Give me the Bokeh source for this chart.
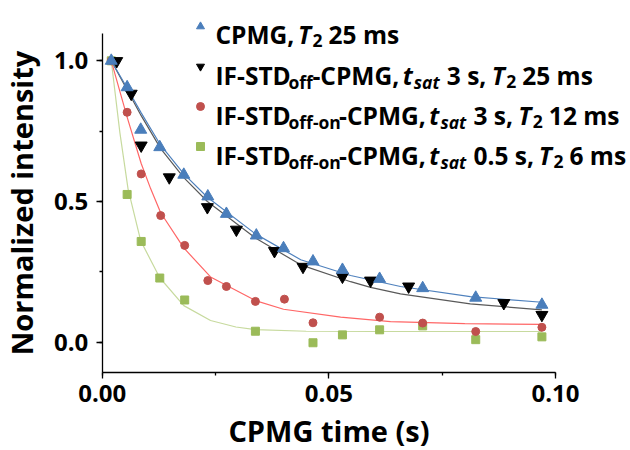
from bokeh.plotting import figure
from bokeh.models import (Range1d, SingleIntervalTicker, NumeralTickFormatter, Label,
                          Legend, LegendItem)
from bokeh.embed import file_html
from bokeh.resources import INLINE

# ---------------- data ----------------
cpmg_t = [0.002, 0.0055, 0.0085, 0.0127, 0.018, 0.0233, 0.0274, 0.034, 0.040, 0.0465,
          0.053, 0.0612, 0.0707, 0.0824, 0.097]
cpmg_v = [1.0, 0.906, 0.755, 0.693, 0.595, 0.518, 0.456, 0.379, 0.334, 0.287,
          0.257, 0.225, 0.192, 0.158, 0.133]

off_t = [0.0032, 0.0064, 0.0086, 0.0148, 0.0232, 0.0296, 0.038, 0.0443, 0.053, 0.0592,
         0.0676, 0.0886, 0.097]
off_v = [0.999, 0.883, 0.699, 0.586, 0.48, 0.40, 0.324, 0.268, 0.233, 0.219,
         0.198, 0.139, 0.097]

on3_t = [0.002, 0.0055, 0.0086, 0.0129, 0.0182, 0.0233, 0.0274, 0.0338, 0.0402, 0.0465,
         0.0612, 0.0707, 0.0824, 0.097]
on3_v = [1.0, 0.817, 0.598, 0.45, 0.344, 0.219, 0.198, 0.145, 0.153, 0.069,
         0.089, 0.068, 0.038, 0.053]

on05_t = [0.002, 0.0055, 0.0086, 0.0127, 0.0182, 0.0338, 0.0465, 0.053, 0.0612, 0.0707,
          0.0824, 0.097]
on05_v = [1.0, 0.525, 0.358, 0.228, 0.150, 0.039, -0.002, 0.026, 0.044, 0.058,
          0.009, 0.019]

# fitted curves
fit_cpmg_t = [0.002, 0.0054, 0.0086, 0.0129, 0.018, 0.0232, 0.0338, 0.0438, 0.0548,
              0.0658, 0.0812, 0.097]
fit_cpmg_v = [1.0, 0.906, 0.815, 0.70, 0.598, 0.515, 0.385, 0.293, 0.237,
              0.198, 0.162, 0.142]

fit_off_t = [0.002, 0.0054, 0.0086, 0.0129, 0.018, 0.0232, 0.0338, 0.0438, 0.0548,
             0.0592, 0.0658, 0.0812, 0.097]
fit_off_v = [1.0, 0.90, 0.805, 0.688, 0.585, 0.50, 0.37, 0.275, 0.215,
             0.195, 0.172, 0.136, 0.115]

fit_on3_t = [0.002, 0.0055, 0.0086, 0.0107, 0.0129, 0.018, 0.0239, 0.0338, 0.040,
             0.0526, 0.0636, 0.080, 0.097]
fit_on3_v = [1.0, 0.80, 0.635, 0.545, 0.46, 0.335, 0.232, 0.148, 0.117,
             0.089, 0.073, 0.066, 0.063]

fit_on05_t = [0.002, 0.0039, 0.0057, 0.0085, 0.0127, 0.018, 0.0239, 0.0295, 0.0338,
              0.045, 0.060, 0.097]
fit_on05_v = [1.0, 0.745, 0.545, 0.36, 0.229, 0.13, 0.077, 0.054, 0.045,
              0.039, 0.038, 0.038]

x_axis_bounds = (0.0, 0.1)
y_axis_bounds = (-0.108, 1.097)
x_tick_interval = 0.05
y_tick_interval = 0.5

# ---------------- layout / styling ----------------
FONT = "Open Sans"
BLUE_PT, BLUE_LN = "#4A7EBB", "#4F81BD"
BLACK_PT, BLACK_LN = "#000000", "#595959"
RED_PT, RED_LN = "#C0504D", "#FF6666"
GREEN_PT, GREEN_LN = "#9BBB59", "#C7DA9E"

W, H = 630, 450
PX_X = 4533.0      # canvas px per x unit
PX_Y = 281.4       # canvas px per y unit
ORG_X = 101.7      # canvas x of x = 0
ORG_Y = 341.7      # canvas y of y = 0

p = figure(width=W, height=H, output_backend="svg", toolbar_location=None,
           x_range=Range1d(-ORG_X / PX_X, (W - ORG_X) / PX_X),
           y_range=Range1d(-(H - ORG_Y) / PX_Y, ORG_Y / PX_Y),
           min_border=0)
p.xgrid.visible = False
p.ygrid.visible = False
p.outline_line_color = None
p.background_fill_color = "white"
p.border_fill_color = "white"

for ax in (p.xaxis[0], p.yaxis[0]):
    ax.axis_line_color = "black"
    ax.axis_line_width = 1.3
    ax.major_tick_line_color = "black"
    ax.minor_tick_line_color = "black"
    ax.major_tick_line_width = 1.3
    ax.minor_tick_line_width = 1.3
    ax.major_tick_out = 6
    ax.major_tick_in = 0
    ax.minor_tick_out = 3
    ax.minor_tick_in = 0
    ax.major_label_text_font = FONT
    ax.major_label_text_font_style = "bold"
    ax.major_label_text_font_size = "24px"
    ax.major_label_text_color = "black"
    ax.axis_label_text_font = FONT
    ax.axis_label_text_font_style = "bold"
    ax.axis_label_text_font_size = "29px"
    ax.axis_label_text_color = "black"

p.xaxis.fixed_location = y_axis_bounds[0]
p.yaxis.fixed_location = x_axis_bounds[0]
p.xaxis.bounds = x_axis_bounds
p.yaxis.bounds = y_axis_bounds
p.xaxis.ticker = SingleIntervalTicker(interval=x_tick_interval, num_minor_ticks=2)
p.yaxis.ticker = SingleIntervalTicker(interval=y_tick_interval, num_minor_ticks=2)
p.xaxis.formatter = NumeralTickFormatter(format="0.00")
p.yaxis.formatter = NumeralTickFormatter(format="0.0")
p.xaxis.axis_label = "CPMG time (s)"
p.yaxis.axis_label = "Normalized intensity"
p.yaxis.major_label_standoff = 8
p.xaxis.major_label_standoff = 6
p.yaxis.axis_label_standoff = 10
p.xaxis.axis_label_standoff = 6

# fit lines
p.line(fit_on05_t, fit_on05_v, line_color=GREEN_LN, line_width=1.2)
p.line(fit_on3_t, fit_on3_v, line_color=RED_LN, line_width=1.2)
p.line(fit_off_t, fit_off_v, line_color=BLACK_LN, line_width=1.2)
p.line(fit_cpmg_t, fit_cpmg_v, line_color=BLUE_LN, line_width=1.2)

# points
r_g = p.scatter(on05_t, on05_v, marker="square", size=8, fill_color=GREEN_PT, line_color=GREEN_PT)
r_r = p.scatter(on3_t, on3_v, marker="circle", size=8, fill_color=RED_PT, line_color=RED_PT)
r_k = p.scatter(off_t, off_v, marker="inverted_triangle", size=12, fill_color=BLACK_PT, line_color=BLACK_PT)
r_b = p.scatter(cpmg_t, cpmg_v, marker="triangle", size=12, fill_color=BLUE_PT, line_color=BLUE_PT)

# legend swatches (label texts drawn separately, to allow sub-scripts)
LEG_LEFT, LEG_TOP = 190, 11
legend = Legend(items=[LegendItem(label=" ", renderers=[r]) for r in (r_b, r_k, r_r, r_g)],
                location=(LEG_LEFT, H - (LEG_TOP + 4 * 30 + 3 * 10)),
                glyph_width=20, glyph_height=30, label_width=0, label_height=30,
                label_standoff=0, spacing=10, padding=0, margin=0,
                label_text_font_size="1px",
                border_line_color=None, background_fill_alpha=0)
p.add_layout(legend, "center")

# ---------------- legend text with sub-scripts ----------------
EM = {' ': 0.26, ',': 0.28, '-': 0.32, '.': 0.286, 'C': 0.63, 'D': 0.724, 'F': 0.543,
      'G': 0.713, 'I': 0.342, 'M': 0.909, 'P': 0.645, 'S': 0.548, 'T': 0.564, 'a': 0.586,
      'm': 0.928, 'n': 0.631, 'o': 0.602, 'f': 0.397, 's': 0.496, 't': 0.421}
SIZE = {"b": 24.5, "bi": 24.5, "sub": 17.5, "subi": 17.5}
STYLE = {"b": "bold", "bi": "bold italic", "sub": "bold", "subi": "bold italic"}


def tw(text, size):
    return sum(EM.get(c, 0.572) for c in text) * size * 0.98


def px2x(cx):
    return (cx - ORG_X) / PX_X


def py2y(cy):
    return (ORG_Y - cy) / PX_Y


def write_row(parts, x_start, baseline):
    x = x_start
    for text, kind in parts:
        size = SIZE[kind]
        lead = len(text) - len(text.lstrip(" "))
        x += tw(" " * lead, SIZE["b"])
        text = text.lstrip(" ")
        y = baseline + (6 if kind.startswith("sub") else 0)
        p.add_layout(Label(x=px2x(x), y=py2y(y), text=text, text_font=FONT,
                           text_font_style=STYLE[kind], text_font_size=f"{size}px",
                           text_color="black", text_baseline="alphabetic",
                           text_align="left"))
        x += tw(text, size) + (1 if kind in ("bi", "subi") else 0)


rows = [
    [("CPMG, ", "b"), ("T", "bi"), ("2", "sub"), (" 25 ms", "b")],
    [("IF-STD", "b"), ("off", "sub"), ("-CPMG,", "b"), (" t", "bi"), ("sat", "subi"),
     (" 3 s,", "b"), (" T", "bi"), ("2", "sub"), (" 25 ms", "b")],
    [("IF-STD", "b"), ("off-on", "sub"), ("-CPMG,", "b"), (" t", "bi"), ("sat", "subi"),
     (" 3 s,", "b"), (" T", "bi"), ("2", "sub"), (" 12 ms", "b")],
    [("IF-STD", "b"), ("off-on", "sub"), ("-CPMG,", "b"), (" t", "bi"), ("sat", "subi"),
     (" 0.5 s,", "b"), (" T", "bi"), ("2", "sub"), (" 6 ms", "b")],
]
baselines = [34, 75, 115, 155]   # canvas px
for parts, bl in zip(rows, baselines):
    write_row(parts, 215, bl)

open("out.html", "w").write(file_html(p, INLINE))
